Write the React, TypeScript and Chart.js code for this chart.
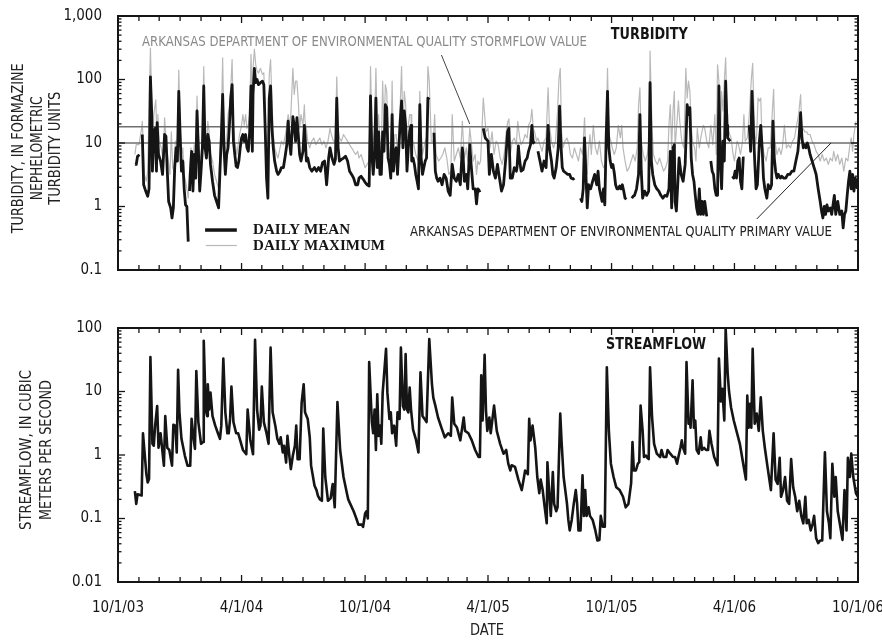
import React, { useEffect, useRef } from 'react';
import { Chart, registerables } from 'chart.js';

Chart.register(...registerables);

// ---------- DATA (day = days since 10/1/03) ----------
const monthStartDays = [0, 31, 61, 92, 123, 152, 183, 213, 244, 274, 305, 336, 366, 397, 427, 458, 489, 517, 548, 578, 609, 639, 670, 701, 731, 762, 792, 823, 854, 882, 913, 943, 974, 1004, 1035, 1066, 1096];
const dateLabelDays = [0, 183, 366, 548, 731, 913, 1096];
const dateLabels = ['10/1/03', '4/1/04', '10/1/04', '4/1/05', '10/1/05', '4/1/06', '10/1/06'];
const turbidityTicks = [0.1, 1, 10, 100, 1000];
const flowTicks = [0.01, 0.1, 1, 10, 100];
const primaryValue = 10;
const stormflowValue = 18;

// Turbidity daily mean [day, NTU] (null = missing record)
const turbidityMean: [number, number | null][] = [
  [25, 4.6], [27, 4.6], [29, 6.2], [32, 6.5], [34, null], [36, 13.6], [38, 2.2], [41, 1.75], [44, 1.45], [46, 1.9],
  [48, 110], [50, 28], [51, 3.6], [53, 15], [55, 17], [57, 3.6], [58, 21], [60, 6.6], [63, 5.2], [66, 3.2],
  [69, 13.6], [71, 12.7], [73, 3.6], [75, 1.2], [78, 0.95], [80, 0.66], [82, 0.95], [84, 4.1], [86, 8.4], [88, 5.2],
  [90, 65], [92, 13.6], [94, 3.6], [96, 5.2], [98, 1.9], [100, 1.06], [102, 1.0], [104, 0.28], [105, null], [106, 1.75],
  [107, 3.2], [109, 7.4], [111, 1.75], [113, 6.6], [115, 2.8], [117, 32], [119, 8.4], [121, 1.75], [123, 3.6], [125, 8.4],
  [127, 79], [129, 8.4], [131, 5.8], [133, 13.6], [135, 10.6], [137, 4.6], [140, 2.5], [143, 1.5], [146, 1.2], [149, 0.95],
  [151, 3.6], [153, 12], [155, 58], [157, 8.4], [159, 3.2], [161, 6.6], [163, 8.4], [165, 19], [167, 51], [169, 83],
  [171, 10.6], [173, 6.6], [175, 4.3], [177, 4.1], [179, 5.2], [181, 8.4], [183, 12], [185, 13.6], [187, 10.6], [189, 13.6],
  [191, 8.4], [193, 7.4], [195, 15], [197, 79], [199, 7.4], [200, 58], [202, 150], [204, 89], [206, 100], [208, 83],
  [211, 89], [214, 94], [216, 83], [218, 17], [220, 2.8], [222, 1.35], [224, 51], [226, 79], [228, 17], [230, 8.4],
  [232, 5.2], [235, 3.6], [237, 3.2], [240, 3.6], [242, 4.1], [245, 4.1], [248, 6.6], [250, 9.4], [252, 22], [254, 10.6],
  [256, 6.6], [259, 26], [261, 19], [263, 10.6], [265, 25], [267, 13.6], [269, 6.6], [271, 5.2], [274, 7.4], [276, 19],
  [277, 13.6], [279, 5.2], [281, 5.8], [284, 4.1], [287, 3.6], [291, 4.1], [294, 3.6], [297, 4.1], [300, 3.6], [303, 4.9],
  [306, 5.2], [309, 2.2], [312, 5.8], [314, 8.4], [317, 5.8], [320, 4.6], [322, 5.5], [324, 51], [326, 8.4], [328, 5.2],
  [331, 5.5], [334, 5.8], [337, 6.2], [340, 5.2], [343, 3.6], [346, 3.2], [349, 2.8], [352, 2.2], [355, 2.2], [357, 2.8],
  [360, 3.0], [363, 2.7], [366, 2.4], [369, 2.2], [372, 2.1], [374, 55], [376, 6.6], [378, 3.2], [380, 6.6], [382, 51],
  [384, 4.1], [386, 15], [388, 3.2], [390, 3.2], [392, 15], [394, 7.4], [396, 40], [398, 36], [400, 5.8], [402, 4.6],
  [404, 2.8], [406, 28], [408, 3.6], [410, 7.4], [412, 8.4], [414, 3.2], [416, 8.4], [418, 22], [420, 46], [422, 8.4],
  [424, 32], [426, 19], [428, 3.6], [430, 8.4], [432, 15], [434, 19], [435, 5.2], [437, 5.8], [439, 4.6], [441, 3.2],
  [443, 2.5], [445, 1.9], [447, 40], [449, 5.8], [451, 3.2], [453, 4.1], [455, 5.2], [457, 5.8], [459, 51], [461, 48],
  [464, null], [468, 14.5], [470, 3.6], [472, 2.8], [474, 2.5], [477, 2.8], [480, 2.2], [483, 3.2], [486, 2.8], [489, 1.75],
  [492, 1.5], [495, 4.6], [498, 2.8], [501, 2.5], [504, 3.2], [507, 2.2], [510, 8.4], [511, 6.6], [513, 2.5], [516, 3.2],
  [518, 1.9], [521, 9.4], [523, 4.6], [526, 1.9], [529, 1.9], [531, 1.1], [533, 1.9], [535, 1.75], [537, 1.8], [539, null],
  [541, 17], [544, 12], [548, 10.7], [550, 3.2], [553, 6.6], [556, 3.6], [559, 2.8], [562, 4.6], [565, 2.8], [568, 1.75],
  [571, 2.2], [574, 5.2], [577, 15], [579, 17], [581, 2.8], [584, 2.8], [587, 4.1], [590, 3.6], [591, 4.1], [593, 9],
  [595, 5.2], [597, 3.6], [600, 3.8], [603, 5.2], [606, 5.8], [608, 7.4], [611, 9.4], [613, 19], [615, 10], [617, 10.7],
  [619, null], [622, 7.4], [625, 5.2], [628, 3.6], [631, 5.2], [634, 4.1], [637, 19], [639, 8.4], [642, 5.2], [644, 3.2],
  [646, 2.8], [649, 4.1], [652, 8.4], [654, 38], [656, 9.4], [658, 4.1], [660, 3.6], [663, 3.4], [666, 3.2], [669, 3.2],
  [671, 2.8], [674, 2.7], [676, 2.8], [680, null], [685, 1.35], [687, 1.2], [689, 1.9], [691, 12], [693, 3.2], [695, 0.95],
  [697, 2.2], [700, 1.9], [703, 2.5], [706, 3.2], [709, 2.2], [711, 3.6], [713, 1.9], [715, 1.5], [717, 1.2], [719, 1.9],
  [721, 1.06], [723, 12], [725, 65], [727, 8.4], [729, 5.2], [731, 4.1], [733, 4.6], [735, 3.4], [737, 2.2], [739, 1.9],
  [741, 1.9], [743, 2.1], [745, 1.9], [747, 2.2], [749, 1.75], [751, 1.35], [753, 1.3], [756, null], [761, 1.35], [763, 1.45],
  [765, 1.5], [768, 1.9], [771, 3.2], [773, 28], [775, 3.6], [777, 1.35], [780, 1.75], [783, 1.5], [786, 1.75], [788, 89],
  [790, 5.2], [792, 3.2], [795, 2.2], [798, 1.9], [801, 1.75], [804, 1.5], [807, 1.35], [810, 1.5], [813, 1.45], [816, 1.9],
  [818, 7.4], [820, 0.95], [822, 8.4], [824, 9.4], [825, 1.2], [827, 0.85], [829, 2.2], [831, 5.8], [834, 3.2], [837, 2.5],
  [840, 4.6], [843, 40], [845, 28], [847, 36], [849, 5.8], [851, 3.2], [853, 2.5], [855, 1.5], [857, 0.95], [859, 0.75],
  [861, 1.9], [863, 0.75], [865, 1.2], [867, 0.75], [869, 1.2], [872, 0.7], [874, null], [878, 5.2], [880, 3.6], [882, 3.2],
  [884, 1.9], [886, 1.5], [888, 1.5], [890, 79], [892, 5.2], [894, 1.9], [896, 10.7], [898, 5.2], [900, 94], [902, 19],
  [903, 12], [905, 11.3], [907, 10.7], [909, null], [910, 3.0], [912, 2.8], [914, 3.6], [916, 2.8], [918, 5.2], [920, 5.8],
  [922, 2.5], [924, 1.9], [926, 5.8], [928, 5.8], [931, null], [935, 19], [937, 7.4], [939, 65], [941, 17], [943, 5.2],
  [945, 1.9], [947, 2.2], [950, 10.7], [952, 19], [954, 8.4], [956, 2.8], [958, 1.9], [961, 1.35], [963, 2.2], [966, 1.9],
  [968, 2.2], [970, 22], [972, 5.8], [974, 3.6], [976, 2.8], [978, 3.2], [981, 2.8], [983, 3.0], [986, 2.8], [989, 2.8],
  [992, 3.2], [995, 3.2], [998, 3.6], [1001, 3.6], [1004, 5.2], [1007, 7.4], [1009, 13.6], [1011, 30], [1013, 12], [1015, 8.4],
  [1017, 9.4], [1019, 8.4], [1021, 10], [1023, 8.4], [1025, 6.6], [1028, 5.2], [1031, 4.1], [1034, 3.2], [1037, 1.9], [1040, 1.2],
  [1042, 0.85], [1044, 0.66], [1046, 1.0], [1048, 0.75], [1050, 1.06], [1052, 0.85], [1055, 0.95], [1057, 0.75], [1059, 1.06], [1061, 1.5],
  [1063, 0.75], [1066, 1.2], [1069, 0.75], [1072, 0.85], [1074, 0.46], [1076, 0.75], [1078, 0.85], [1080, 1.5], [1082, 2.5], [1084, 3.6],
  [1086, 1.9], [1088, 3.2], [1090, 1.75], [1092, 2.8], [1095, 1.9],
];

// Turbidity daily maximum [day, NTU]
const turbidityMax: [number, number][] = [
  [25, 6.6], [27, 9.4], [31, 9.4], [35, 17], [36, 22], [39, 3.2], [42, 2.5], [44, 3.6], [48, 310], [50, 46],
  [51, 6.6], [53, 28], [56, 48], [58, 9.4], [59, 28], [61, 10.7], [64, 8.4], [67, 5.2], [69, 25], [72, 8.4],
  [74, 5.8], [77, 3.2], [79, 15], [81, 4.1], [83, 3.6], [85, 10.7], [88, 9.4], [90, 140], [92, 19], [94, 6.6],
  [96, 8.4], [98, 3.2], [100, 2.5], [102, 1.9], [104, 1.35], [106, 3.6], [108, 8.4], [110, 4.1], [113, 9.4], [115, 5.2],
  [117, 55], [119, 13.6], [121, 5.2], [123, 6.6], [125, 12], [127, 160], [129, 13.6], [131, 8.4], [133, 22], [135, 15],
  [137, 6.6], [140, 5.2], [143, 3.2], [146, 2.5], [149, 1.9], [151, 7.4], [153, 22], [155, 220], [157, 15], [159, 6.6],
  [161, 10.7], [163, 28], [165, 36], [167, 74], [169, 205], [171, 17], [173, 10.7], [176, 6.6], [178, 9.4], [180, 13.6],
  [183, 19], [185, 28], [187, 19], [189, 28], [191, 17], [193, 19], [195, 28], [197, 250], [199, 28], [200, 150],
  [202, 300], [204, 170], [206, 135], [208, 127], [211, 150], [214, 120], [216, 127], [218, 28], [220, 5.2], [222, 3.2],
  [224, 120], [226, 205], [228, 46], [230, 13.6], [232, 8.4], [235, 6.6], [237, 5.8], [240, 8.4], [242, 10.7], [245, 9.4],
  [248, 13.6], [250, 19], [252, 28], [254, 19], [256, 28], [259, 150], [261, 58], [263, 94], [265, 94], [267, 46],
  [269, 17], [271, 28], [274, 19], [276, 40], [277, 22], [279, 17], [281, 10.7], [284, 8.4], [287, 10.7], [290, 12],
  [293, 9.4], [296, 10.7], [299, 12], [302, 9.4], [305, 10.7], [308, 8.4], [311, 10.7], [314, 17], [316, 13.6], [319, 10.7],
  [322, 10.7], [324, 110], [326, 17], [328, 12], [331, 10.7], [334, 13.6], [337, 12], [340, 10.7], [343, 9.4], [346, 8.4],
  [349, 7.4], [352, 6.6], [355, 7.4], [357, 5.8], [360, 6.6], [363, 5.2], [366, 4.1], [369, 4.6], [372, 5.2], [374, 160],
  [376, 19], [378, 8.4], [380, 19], [382, 150], [384, 15], [386, 28], [388, 8.4], [390, 8.4], [392, 94], [394, 15],
  [396, 83], [398, 65], [400, 10.7], [402, 6.6], [404, 5.2], [406, 94], [408, 6.6], [410, 13.6], [412, 13.6], [414, 6.6],
  [416, 15], [418, 40], [420, 160], [422, 13.6], [424, 65], [426, 40], [428, 7.4], [430, 19], [432, 28], [434, 28],
  [435, 10.7], [437, 10.7], [439, 8.4], [441, 6.6], [443, 5.8], [445, 5.2], [447, 65], [449, 15], [451, 6.6], [453, 8.4],
  [455, 10.7], [457, 12], [459, 160], [461, 94], [464, 10.7], [467, 10.7], [469, 28], [471, 6.6], [473, 5.8], [475, 5.2],
  [478, 5.8], [481, 6.6], [484, 8.4], [487, 5.8], [490, 3.2], [493, 3.6], [495, 28], [498, 5.2], [501, 6.6], [504, 8.4],
  [507, 5.8], [510, 22], [511, 13.6], [513, 5.8], [516, 8.4], [518, 5.2], [521, 17], [523, 10.7], [526, 5.2], [529, 6.6],
  [531, 3.2], [533, 5.2], [535, 4.6], [537, 5.2], [539, 15], [541, 51], [545, 15], [548, 17], [551, 8.4], [554, 15],
  [557, 6.6], [560, 10.7], [563, 9.4], [566, 5.8], [569, 4.6], [572, 6.6], [575, 15], [577, 21], [579, 24], [581, 6.6],
  [584, 10.7], [587, 12], [590, 9.4], [592, 22], [595, 12], [597, 9.4], [600, 10.7], [603, 13.6], [606, 12], [608, 19],
  [611, 22], [613, 34], [615, 17], [617, 15], [620, 10.7], [622, 12], [625, 9.4], [628, 7.4], [631, 10.7], [634, 12],
  [637, 74], [639, 19], [642, 10.7], [645, 8.4], [648, 10.7], [651, 32], [653, 100], [655, 150], [657, 15], [659, 8.4],
  [662, 10.7], [665, 12], [668, 9.4], [670, 6.6], [673, 5.8], [676, 8.4], [679, 6.6], [682, 5.2], [685, 8.4], [688, 6.6],
  [691, 25], [693, 6.6], [695, 3.2], [697, 8.4], [699, 13.6], [701, 6.6], [704, 19], [707, 8.4], [710, 6.6], [713, 10.7],
  [716, 5.2], [719, 4.1], [722, 4.6], [725, 150], [727, 13.6], [730, 10.7], [732, 8.4], [735, 6.6], [738, 8.4], [741, 19],
  [744, 12], [746, 19], [748, 8.4], [751, 5.2], [754, 3.6], [757, 4.1], [760, 5.2], [763, 6.6], [766, 5.2], [769, 8.4],
  [771, 40], [773, 74], [775, 10.7], [778, 6.6], [781, 5.2], [784, 6.6], [787, 13.6], [788, 280], [791, 17], [793, 6.6],
  [796, 5.2], [799, 4.6], [802, 5.8], [805, 4.6], [808, 3.6], [811, 4.1], [814, 5.2], [816, 19], [818, 40], [820, 8.4],
  [822, 32], [824, 65], [825, 8.4], [828, 22], [830, 46], [832, 22], [835, 10.7], [838, 8.4], [841, 150], [843, 51],
  [845, 94], [847, 65], [849, 19], [851, 10.7], [854, 8.4], [856, 5.2], [858, 17], [861, 8.4], [864, 13.6], [867, 19],
  [869, 17], [872, 10.7], [875, 8.4], [878, 19], [881, 9.4], [884, 28], [886, 6.6], [888, 170], [890, 94], [892, 9.4],
  [894, 65], [896, 32], [898, 94], [900, 220], [902, 28], [903, 17], [906, 13.6], [908, 12], [911, 6.6], [913, 5.2],
  [915, 7.4], [917, 10.7], [919, 9.4], [922, 6.6], [925, 10.7], [927, 28], [929, 10.7], [932, 12], [935, 28], [938, 100],
  [940, 180], [942, 28], [944, 9.4], [946, 13.6], [948, 51], [950, 46], [952, 51], [954, 9.4], [957, 6.6], [960, 5.2],
  [963, 8.4], [966, 8.4], [968, 19], [971, 70], [973, 10.7], [976, 6.6], [979, 8.4], [982, 6.6], [984, 8.4], [987, 19],
  [990, 8.4], [993, 9.4], [996, 8.4], [999, 10.7], [1002, 12], [1005, 19], [1008, 28], [1011, 58], [1013, 15], [1015, 17],
  [1017, 15], [1020, 15], [1022, 13.6], [1025, 13.6], [1028, 10.7], [1031, 9.4], [1034, 7.4], [1037, 6.6], [1040, 5.2], [1043, 6.6],
  [1046, 5.2], [1049, 5.8], [1052, 4.6], [1055, 5.8], [1058, 5.2], [1060, 7.4], [1063, 5.2], [1066, 6.6], [1069, 4.6], [1072, 5.8],
  [1075, 3.6], [1078, 5.8], [1081, 5.2], [1084, 9.4], [1086, 12], [1088, 7.4], [1090, 13.6], [1093, 22],
];

// Streamflow daily mean [day, m3/s]
const streamflow: [number, number][] = [
  [25, 0.27], [27, 0.17], [29, 0.24], [35, 0.23], [37, 2.2], [42, 0.5], [44, 0.37], [46, 0.42], [48, 35], [51, 1.5],
  [53, 1.4], [55, 2.9], [58, 5.9], [60, 1.3], [63, 2.2], [68, 0.68], [70, 4.1], [73, 1.3], [76, 1.2], [80, 0.68],
  [82, 3.0], [85, 2.9], [87, 1.1], [89, 22], [91, 4.7], [94, 1.8], [99, 0.98], [103, 0.68], [107, 0.68], [109, 3.7],
  [112, 1.8], [114, 1.25], [116, 21], [119, 3.3], [123, 1.5], [126, 1.6], [127, 63], [130, 5.2], [132, 4.1], [133, 13],
  [135, 5.2], [137, 9.6], [140, 4.1], [144, 2.9], [148, 2.2], [151, 1.8], [153, 2.9], [156, 33], [159, 4.7], [162, 2.2],
  [164, 2.2], [166, 3.7], [168, 12], [171, 3.3], [175, 2.2], [178, 2.2], [181, 1.7], [185, 1.2], [190, 1.03], [192, 5.2],
  [196, 1.7], [200, 1.03], [203, 65], [206, 5.2], [209, 2.5], [211, 2.9], [213, 12], [216, 3.3], [220, 2.2], [223, 1.5],
  [226, 49], [229, 4.7], [233, 2.9], [236, 1.8], [239, 1.5], [241, 1.9], [244, 1.1], [246, 1.4], [249, 0.76], [251, 2.0],
  [254, 0.92], [256, 0.6], [259, 0.98], [262, 1.4], [264, 2.9], [266, 0.86], [269, 0.86], [272, 6.7], [275, 13], [277, 4.7],
  [281, 3.7], [284, 1.9], [286, 0.68], [291, 0.33], [294, 0.28], [296, 0.23], [299, 0.2], [302, 0.19], [304, 2.6], [307, 0.45],
  [311, 0.19], [315, 0.21], [318, 0.35], [321, 0.15], [325, 6.8], [329, 1.2], [334, 0.45], [339, 0.25], [341, 0.2], [344, 0.17],
  [349, 0.13], [353, 0.1], [356, 0.08], [361, 0.08], [363, 0.074], [366, 0.12], [368, 0.13], [370, 0.1], [372, 29], [376, 3.3],
  [378, 2.2], [380, 5.2], [382, 1.2], [384, 9], [386, 2.0], [388, 2.9], [390, 1.5], [392, 9.6], [397, 47], [399, 9.6],
  [402, 3.7], [404, 4.7], [406, 2.2], [409, 2.9], [412, 1.4], [414, 4.7], [417, 3.7], [419, 49], [422, 5.9], [424, 5.2],
  [426, 39], [428, 5.2], [430, 4.7], [432, 11.5], [434, 5.2], [437, 2.5], [441, 1.8], [445, 1.1], [448, 20], [451, 4.1],
  [454, 3.7], [457, 3.3], [461, 67], [465, 13], [467, 8], [470, 6], [474, 3.9], [479, 2.7], [484, 1.9], [489, 2.2],
  [493, 2.0], [495, 8], [498, 3.1], [502, 2.7], [507, 1.7], [512, 3.9], [514, 2.4], [519, 2.2], [524, 1.7], [529, 1.2],
  [534, 0.93], [536, 0.93], [538, 18], [540, 3.5], [543, 38], [545, 5], [547, 2.4], [550, 3.9], [552, 2.2], [557, 6],
  [561, 2.4], [566, 1.5], [571, 1.05], [575, 1.2], [578, 0.73], [581, 0.57], [583, 0.69], [588, 0.65], [593, 0.41], [598, 0.28],
  [603, 0.57], [607, 0.5], [609, 3.7], [611, 1.7], [614, 2.9], [618, 1.3], [621, 0.45], [624, 0.25], [626, 0.41], [629, 0.28],
  [632, 0.15], [635, 0.084], [636, 0.77], [639, 0.22], [641, 0.11], [644, 0.54], [646, 0.17], [649, 0.13], [651, 0.15], [655, 4.5],
  [657, 1.6], [660, 0.45], [665, 0.17], [667, 0.095], [669, 0.065], [672, 0.095], [675, 0.17], [678, 0.28], [680, 0.17], [682, 0.065],
  [685, 0.065], [688, 0.48], [690, 0.11], [692, 0.28], [694, 0.11], [697, 0.15], [699, 0.11], [703, 0.095], [707, 0.065], [710, 0.045],
  [713, 0.046], [715, 0.11], [718, 0.074], [721, 0.074], [724, 24], [727, 2.4], [730, 0.73], [734, 0.45], [738, 0.31], [743, 0.28],
  [748, 0.22], [752, 0.15], [756, 0.17], [760, 0.36], [762, 1.6], [764, 0.57], [767, 0.57], [770, 0.73], [772, 0.77], [774, 6],
  [777, 2.4], [779, 0.93], [782, 0.98], [784, 0.9], [786, 0.86], [788, 24], [791, 3.9], [794, 1.5], [798, 1.05], [803, 0.93],
  [805, 1.2], [808, 0.93], [812, 0.93], [814, 1.2], [818, 1.05], [822, 0.93], [825, 0.93], [828, 0.73], [830, 0.93], [833, 1.3],
  [835, 1.7], [837, 1.3], [840, 1.05], [842, 29], [845, 3.1], [847, 3.5], [848, 2.7], [851, 15], [853, 2.7], [855, 3.5],
  [857, 1.2], [860, 1.05], [863, 1.9], [865, 1.2], [868, 1.3], [871, 1.2], [874, 1.2], [876, 2.4], [879, 1.5], [883, 0.93],
  [888, 0.69], [890, 33], [893, 7], [895, 11], [898, 3.5], [900, 98], [903, 19], [905, 10], [908, 5.6], [912, 3.5],
  [916, 2.4], [921, 1.5], [926, 0.73], [930, 0.41], [932, 8.6], [934, 2.7], [936, 6.4], [938, 2.7], [940, 47], [943, 3.1],
  [946, 4.5], [949, 2.4], [952, 8.1], [955, 2.4], [958, 1.3], [962, 0.65], [967, 0.28], [971, 2.2], [974, 0.41], [977, 0.35],
  [980, 0.9], [982, 0.22], [985, 0.28], [988, 0.45], [991, 0.19], [994, 0.17], [997, 0.86], [1000, 0.31], [1003, 0.22], [1006, 0.13],
  [1009, 0.19], [1012, 0.11], [1015, 0.084], [1018, 0.22], [1020, 0.084], [1023, 0.095], [1026, 0.065], [1029, 0.084], [1031, 0.11], [1034, 0.049],
  [1037, 0.041], [1040, 0.045], [1043, 0.045], [1047, 1.1], [1050, 0.13], [1053, 0.084], [1055, 0.049], [1058, 0.73], [1061, 0.22], [1063, 0.45],
  [1066, 0.13], [1069, 0.084], [1073, 0.046], [1076, 0.28], [1079, 0.065], [1081, 0.9], [1084, 0.45], [1086, 1.05], [1089, 0.45], [1093, 0.25],
  [1096, 0.22],
];

// ---------- STYLE ----------
const NARROW = '"Liberation Sans Narrow", "Arial Narrow", "DejaVu Sans Condensed", sans-serif';
const SERIF = '"Liberation Serif", "Times New Roman", serif';
const INK = '#151515';

const toXY = (pairs: any[]) => pairs.map(([x, y]) => ({ x, y }));

function seg(ctx: any, x1: number, y1: number, x2: number, y2: number) {
  ctx.beginPath();
  ctx.moveTo(x1, y1);
  ctx.lineTo(x2, y2);
  ctx.stroke();
}

function fitText(ctx: any, text: string, x: number, y: number, o: any) {
  ctx.save();
  ctx.font = o.font;
  ctx.fillStyle = o.color;
  ctx.textBaseline = 'middle';
  ctx.textAlign = 'left';
  const natural = ctx.measureText(text).width || 1;
  const w = o.w ?? natural;
  const left = o.align === 'center' ? x - w / 2 : x;
  ctx.translate(left, y);
  ctx.scale(w / natural, 1);
  ctx.fillText(text, 0, 0);
  ctx.restore();
}

const decorPlugin: any = {
  id: 'decor',
  afterDatasetsDraw(chart: any, _a: any, opts: any) {
    const { ctx, chartArea: ca } = chart;
    const xs = chart.scales.x;
    const ys = chart.scales.y;
    const px = (d: number) => xs.getPixelForValue(d);
    const py = (v: number) => ys.getPixelForValue(v);
    ctx.save();
    for (const l of opts.leaders ?? []) {
      ctx.strokeStyle = l.color;
      ctx.lineWidth = l.width;
      seg(ctx, px(l.from[0]), py(l.from[1]), px(l.to[0]), py(l.to[1]));
    }
    for (const t of opts.texts ?? []) fitText(ctx, t.text, px(t.at[0]), py(t.at[1]), t);
    for (const it of opts.legend ?? []) {
      ctx.strokeStyle = it.lineColor;
      ctx.lineWidth = it.lineWidth;
      seg(ctx, px(it.line[0]), py(it.lineAt), px(it.line[1]), py(it.lineAt));
      fitText(ctx, it.text, px(it.at[0]), py(it.at[1]), it);
    }
    // frame
    ctx.strokeStyle = INK;
    ctx.lineWidth = 2;
    ctx.strokeRect(ca.left, ca.top, ca.right - ca.left, ca.bottom - ca.top);
    // inward x tick marks
    ctx.lineWidth = 1.3;
    for (const d of monthStartDays) {
      const x = px(d);
      const len = dateLabelDays.includes(d) ? 7 : 5;
      seg(ctx, x, ca.top, x, ca.top + len);
      seg(ctx, x, ca.bottom, x, ca.bottom - len);
    }
    // inward y tick marks (log decades + minor)
    const lo = ys.min;
    const hi = ys.max;
    for (let dec = lo; dec < hi * 1.001; dec *= 10) {
      for (let m = 1; m <= 9; m++) {
        const v = dec * m;
        if (v > hi * 1.001) break;
        const y = py(v);
        const len = m === 1 ? 7 : 3.5;
        seg(ctx, ca.left, y, ca.left + len, y);
        seg(ctx, ca.right, y, ca.right - len, y);
      }
    }
    ctx.restore();
  },
  afterDraw(chart: any, _a: any, opts: any) {
    const { ctx } = chart;
    for (const t of opts.titles ?? []) {
      ctx.save();
      ctx.font = t.font;
      ctx.fillStyle = t.color;
      ctx.textBaseline = 'middle';
      ctx.textAlign = 'left';
      const natural = ctx.measureText(t.text).width || 1;
      const w = t.w ?? natural;
      ctx.translate(t.x, t.y);
      if (t.rotate) ctx.rotate(t.rotate);
      ctx.scale(w / natural, 1);
      ctx.fillText(t.text, -natural / 2, 0);
      ctx.restore();
    }
  },
};

function yAxis(ticks: number[]) {
  return {
    type: 'logarithmic',
    min: ticks[0],
    max: ticks[ticks.length - 1],
    afterBuildTicks: (s: any) => {
      s.ticks = ticks.map((v) => ({ value: v, major: true }));
    },
    afterFit: (s: any) => {
      s.width = 118;
      s.paddingTop = 0;
      s.paddingBottom = 0;
    },
    grid: { display: false },
    border: { display: false },
    ticks: {
      autoSkip: false,
      color: INK,
      padding: 8,
      font: { family: NARROW, size: 15 },
      callback: (v: number) => (v >= 1000 ? v.toLocaleString('en-US') : String(v)),
    },
  };
}

function xAxis(height: number, showLabels: boolean) {
  return {
    type: 'linear',
    min: 0,
    max: 1096,
    afterBuildTicks: (s: any) => {
      s.ticks = monthStartDays.map((v) => ({ value: v }));
    },
    afterFit: (s: any) => {
      s.height = height;
      s.paddingLeft = 0;
      s.paddingRight = 0;
    },
    grid: { display: false },
    border: { display: false },
    ticks: {
      display: showLabels,
      autoSkip: false,
      maxRotation: 0,
      minRotation: 0,
      padding: 9,
      color: INK,
      font: { family: NARROW, size: 15 },
      callback: (v: number) => {
        const i = dateLabelDays.indexOf(v);
        return i >= 0 ? dateLabels[i] : '';
      },
    },
  };
}

const ROT = -Math.PI / 2;

export default function App() {
  const topRef = useRef<HTMLCanvasElement>(null);
  const botRef = useRef<HTMLCanvasElement>(null);

  useEffect(() => {
    const top = new Chart(topRef.current as any, {
      type: 'line',
      data: {
        datasets: [
          { label: 'DAILY MEAN', data: toXY(turbidityMean), borderColor: INK, borderWidth: 2.8, pointRadius: 0, tension: 0, spanGaps: false, borderJoinStyle: 'round' },
          { label: 'Stormflow value', data: [{ x: 0, y: stormflowValue }, { x: 1096, y: stormflowValue }], borderColor: '#6e6e6e', borderWidth: 1.6, pointRadius: 0 },
          { label: 'Primary value', data: [{ x: 0, y: primaryValue }, { x: 1096, y: primaryValue }], borderColor: '#6e6e6e', borderWidth: 1.6, pointRadius: 0 },
          { label: 'DAILY MAXIMUM', data: toXY(turbidityMax), borderColor: '#b9b9b9', borderWidth: 1.2, pointRadius: 0, tension: 0, borderJoinStyle: 'round' },
        ],
      } as any,
      options: {
        responsive: false,
        animation: false,
        events: [],
        layout: { padding: { top: 16, right: 24, left: 0, bottom: 0 } },
        scales: { x: xAxis(30, false), y: yAxis(turbidityTicks) } as any,
        plugins: {
          legend: { display: false },
          tooltip: { enabled: false },
          decor: {
            leaders: [
              { from: [479, 243], to: [521, 19.9], color: '#444', width: 1 },
              { from: [946, 0.635], to: [1056, 10], color: '#222', width: 1 },
            ],
            texts: [
              { text: 'ARKANSAS DEPARTMENT OF ENVIRONMENTAL QUALITY STORMFLOW VALUE', at: [35.5, 390], font: `14px ${NARROW}`, color: '#8a8a8a', w: 445 },
              { text: 'TURBIDITY', at: [787, 500], align: 'center', font: `bold 16px ${NARROW}`, color: INK, w: 77 },
              { text: 'ARKANSAS DEPARTMENT OF ENVIRONMENTAL QUALITY PRIMARY VALUE', at: [432.5, 0.396], font: `14px ${NARROW}`, color: '#222', w: 422 },
            ],
            legend: [
              { text: 'DAILY MEAN', at: [200, 0.426], lineAt: 0.426, line: [129, 176], lineColor: INK, lineWidth: 3.5, font: `bold 15px ${SERIF}`, color: INK, w: 97 },
              { text: 'DAILY MAXIMUM', at: [200, 0.236], lineAt: 0.243, line: [130, 176], lineColor: '#b9b9b9', lineWidth: 1.2, font: `bold 15px ${SERIF}`, color: INK, w: 132 },
            ],
            titles: [
              { text: 'TURBIDITY, IN FORMAZINE', x: 19.2, y: 148.3, rotate: ROT, font: `16px ${NARROW}`, color: '#222', w: 170 },
              { text: 'NEPHELOMETRIC', x: 37.5, y: 148.3, rotate: ROT, font: `16px ${NARROW}`, color: '#222', w: 104 },
              { text: 'TURBIDITY UNITS', x: 55.8, y: 148.3, rotate: ROT, font: `16px ${NARROW}`, color: '#222', w: 113 },
            ],
          },
        } as any,
      },
      plugins: [decorPlugin],
    });

    const bot = new Chart(botRef.current as any, {
      type: 'line',
      data: {
        datasets: [
          { label: 'STREAMFLOW', data: toXY(streamflow), borderColor: INK, borderWidth: 2.6, pointRadius: 0, tension: 0, borderJoinStyle: 'round' },
        ],
      } as any,
      options: {
        responsive: false,
        animation: false,
        events: [],
        layout: { padding: { top: 28, right: 24, left: 0, bottom: 0 } },
        scales: { x: xAxis(58, true), y: yAxis(flowTicks) } as any,
        plugins: {
          legend: { display: false },
          tooltip: { enabled: false },
          decor: {
            texts: [
              { text: 'STREAMFLOW', at: [797, 54], align: 'center', font: `bold 16px ${NARROW}`, color: INK, w: 100 },
            ],
            titles: [
              { text: 'STREAMFLOW, IN CUBIC', x: 26.5, y: 150, rotate: ROT, font: `16px ${NARROW}`, color: '#222', w: 160 },
              { text: 'METERS PER SECOND', x: 46.5, y: 150, rotate: ROT, font: `16px ${NARROW}`, color: '#222', w: 140 },
              { text: 'DATE', x: 487, y: 331.5, font: `15px ${NARROW}`, color: '#222', w: 34 },
            ],
          },
        } as any,
      },
      plugins: [decorPlugin],
    });

    return () => {
      top.destroy();
      bot.destroy();
    };
  }, []);

  return (
    <div style={{ position: 'absolute', left: 0, top: 0, width: 882, height: 640, background: '#fff' }}>
      <canvas ref={topRef} width={882} height={300} style={{ position: 'absolute', left: 0, top: 0, display: 'block' }} />
      <canvas ref={botRef} width={882} height={340} style={{ position: 'absolute', left: 0, top: 300, display: 'block' }} />
    </div>
  );
}
